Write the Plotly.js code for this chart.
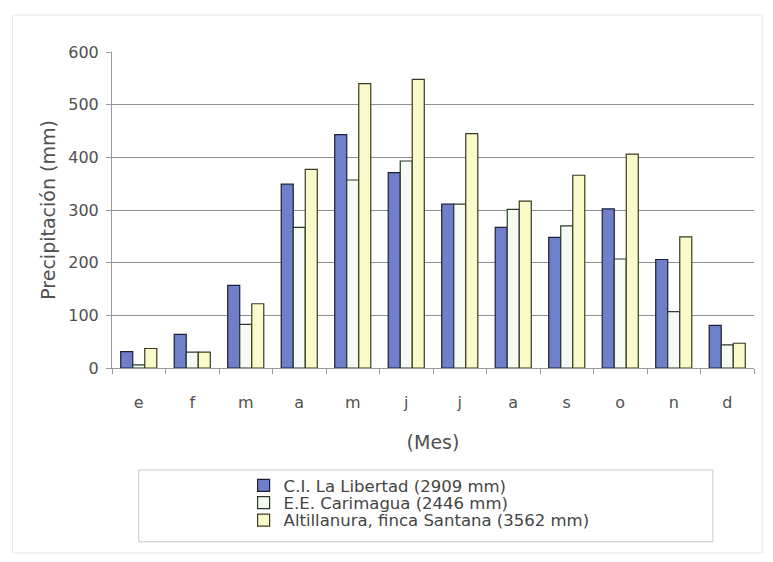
<!DOCTYPE html>
<html>
<head>
<meta charset="utf-8">
<script src="https://cdn.plot.ly/plotly-3.0.1.min.js"></script>
<style>html,body{margin:0;padding:0;background:#fff;}#chart{width:773px;height:562px;}</style>
</head>
<body>
<div id="chart"></div>
<script>
const months = ["e","f","m","a","m ","j","j ","a ","s","o","n","d"];
const monthLabels = ["e","f","m","a","m","j","j","a","s","o","n","d"];
const libertad = [31, 64, 157, 349, 443, 371, 311, 267, 248, 302, 206, 81];
const carimagua = [6, 30, 83, 267, 357, 393, 311, 301, 270, 207, 107, 44];
const santana = [37, 30, 122, 377, 540, 548, 445, 317, 366, 406, 249, 47];
const seriesNames = ["C.I. La Libertad (2909 mm)", "E.E. Carimagua (2446 mm)", "Altillanura, finca Santana (3562 mm)"];

const FONT = "DejaVu Sans, Verdana, sans-serif";
const traces = [
  {type:"bar", x:months, y:libertad, name:seriesNames[0], legend:"legend",
   marker:{color:"#6f7fc9", line:{color:"#1c1f3a", width:1.2}}},
  {type:"bar", x:months, y:carimagua, name:seriesNames[1], legend:"legend2",
   marker:{color:"#f5fbf3", line:{color:"#2a3a2a", width:1.2}}},
  {type:"bar", x:months, y:santana, name:seriesNames[2], legend:"legend3",
   marker:{color:"#fafacb", line:{color:"#3a3a20", width:1.2}}}
];

function leg(y){
  return {x:0.205, xanchor:"left", y:y, yanchor:"middle", orientation:"v",
          font:{family:FONT, size:16.5, color:"#444444"}, bgcolor:"rgba(0,0,0,0)",
          borderwidth:0, itemwidth:30};
}

const layout = {
  width:773, height:562,
  paper_bgcolor:"#ffffff", plot_bgcolor:"#ffffff",
  font:{family:FONT, size:16, color:"#505050"},
  margin:{l:112, r:19, t:52, b:194},
  barmode:"group", bargap:0.326, bargroupgap:0,
  showlegend:true,
  legend:leg(-0.372),
  legend2:leg(-0.427),
  legend3:leg(-0.482),
  xaxis:{type:"category", tickvals:months, ticktext:monthLabels, showgrid:false, zeroline:false,
         showline:true, linecolor:"#9a9a9a", linewidth:1, ticks:"outside", tickson:"boundaries",
         ticklen:5, tickcolor:"#9a9a9a", tickfont:{family:FONT, size:16, color:"#505050"},
         ticklabelstandoff:20, automargin:false,
         title:{text:"(Mes)", font:{family:FONT, size:19, color:"#505050"}, standoff:24}},
  yaxis:{range:[0,600], tickvals:[0,100,200,300,400,500,600], showgrid:true, gridcolor:"#8e8e8e", gridwidth:1,
         zeroline:false, showline:true, linecolor:"#9a9a9a", linewidth:1, ticks:"outside", ticklen:5,
         tickcolor:"#9a9a9a", tickfont:{family:FONT, size:16, color:"#505050"}, ticklabelstandoff:4,
         automargin:false,
         title:{text:"Precipitación (mm)", font:{family:FONT, size:19, color:"#505050"}, standoff:7}},
  shapes:[
    {type:"rect", xref:"paper", yref:"paper", x0:0.0416, x1:0.936, y0:-0.3228, y1:-0.55,
     line:{color:"#c8c8c8", width:1}, fillcolor:"rgba(0,0,0,0)", layer:"below"},
    {type:"rect", xref:"paper", yref:"paper", x0:-0.155, x1:1.013, y0:-0.585, y1:1.117,
     line:{color:"#e8e8e8", width:1}, fillcolor:"rgba(0,0,0,0)", layer:"below"}
  ]
};
Plotly.newPlot("chart", traces, layout, {displayModeBar:false, staticPlot:true});
</script>
</body>
</html>
